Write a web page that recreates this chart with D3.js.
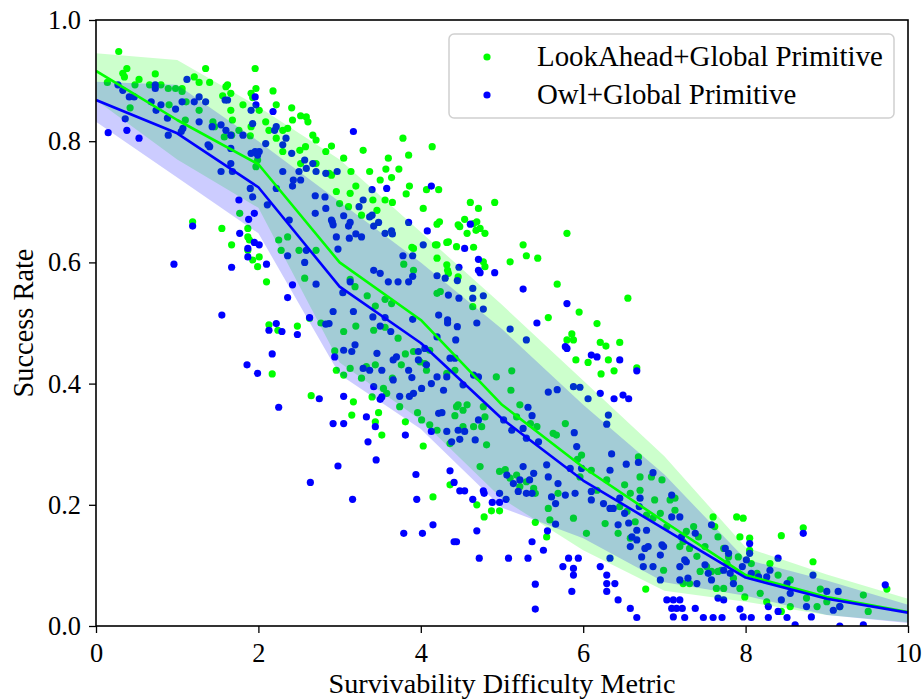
<!DOCTYPE html>
<html>
<head>
<meta charset="utf-8">
<script src="https://cdnjs.cloudflare.com/ajax/libs/d3/7.8.5/d3.min.js"></script>
<style>
  body { margin: 0; background: #fff; }
  svg { display: block; }
</style>
</head>
<body>
<div id="chart"></div>
<script>
const seriesNames = ["LookAhead+Global Primitive", "Owl+Global Primitive"];
const xTicks = [0, 2, 4, 6, 8, 10];
const yTicks = [0, 0.2, 0.4, 0.6, 0.8, 1.0];

// binned mean and band edges, one value per bin centre
const binX = [0, 1, 2, 3, 4, 5, 6, 7, 8, 9, 10];
const lookAheadMean  = [0.916, 0.835, 0.762, 0.600, 0.505, 0.365, 0.262, 0.172, 0.084, 0.048, 0.023];
const lookAheadUpper = [0.945, 0.934, 0.857, 0.770, 0.650, 0.530, 0.405, 0.280, 0.130, 0.085, 0.045];
const lookAheadLower = [0.868, 0.770, 0.690, 0.435, 0.340, 0.210, 0.125, 0.058, 0.040, 0.018, 0.006];
const owlMean  = [0.868, 0.813, 0.724, 0.560, 0.467, 0.342, 0.240, 0.160, 0.080, 0.045, 0.022];
const owlUpper = [0.898, 0.893, 0.800, 0.700, 0.600, 0.490, 0.365, 0.250, 0.110, 0.075, 0.035];
const owlLower = [0.832, 0.740, 0.648, 0.415, 0.325, 0.195, 0.145, 0.072, 0.050, 0.018, 0.005];

// scatter, [difficulty, success rate]
const lookAheadPoints = [
  [0.28,0.948],[0.38,0.92],[0.33,0.912],[0.35,0.906],[0.53,0.902],[0.73,0.911],[0.14,0.897],[0.48,0.893],
  [0.66,0.893],[0.8,0.893],[0.89,0.887],[0.98,0.887],[1.06,0.887],[1.06,0.882],[0.42,0.855],[0.9,0.86],
  [1.11,0.865],[1.21,0.906],[1.27,0.897],[1.4,0.897],[1.35,0.92],[1.6,0.89],[1.62,0.893],[1.66,0.879],
  [1.56,0.875],[1.96,0.92],[1.97,0.887],[1.91,0.879],[1.93,0.872],[2.01,0.851],[2.18,0.883],[2.22,0.86],
  [2.41,0.855],[2.42,0.835],[2.52,0.842],[2.59,0.84],[2.61,0.832],[1.81,0.86],[1.66,0.851],[1.68,0.835],
  [1.44,0.832],[1.46,0.824],[1.27,0.851],[1.1,0.835],[1.91,0.824],[2.09,0.832],[2.13,0.818],[2.22,0.805],
  [2.3,0.818],[2.36,0.821],[1.76,0.818],[1.58,0.807],[1.67,0.81],[1.9,0.809],[2.51,0.785],[2.58,0.791],
  [2.67,0.81],[2.71,0.802],[2.83,0.783],[2.3,0.783],[1.99,0.769],[1.97,0.758],[2.71,0.763],[2.52,0.763],
  [2.87,0.747],[1.77,0.681],[1.87,0.656],[1.87,0.642],[1.89,0.637],[1.87,0.62],[1.93,0.604],[2.01,0.609],
  [1.99,0.593],[2.1,0.568],[1.19,0.667],[1.55,0.656],[1.67,0.629],[2.25,0.637],[2.36,0.642],[2.28,0.62],
  [2.5,0.62],[2.71,0.62],[2.57,0.574],[2.13,0.497],[2.24,0.488],[2.48,0.495],[2.63,0.508],[2.77,0.5],
  [2.17,0.416],[2.65,0.38],
  [3.78,0.805],[4.14,0.791],[3.29,0.785],[3.05,0.772],[2.9,0.792],[3.85,0.777],[3.6,0.772],[3.37,0.75],
  [3.14,0.75],[3.57,0.754],[3.64,0.74],[3.73,0.754],[3.5,0.736],[3.2,0.726],[3.13,0.714],[2.96,0.717],
  [2.9,0.744],[3.41,0.703],[3.56,0.703],[3.65,0.699],[3.46,0.686],[3.27,0.678],[3.11,0.692],[3.0,0.697],
  [3.86,0.726],[3.82,0.713],[4.07,0.72],[4.22,0.72],[4.03,0.689],[4.2,0.663],[4.23,0.667],[4.61,0.699],
  [4.71,0.689],[4.91,0.699],[4.54,0.671],[4.48,0.659],[4.46,0.662],[4.57,0.648],[4.69,0.667],[4.68,0.653],
  [4.73,0.656],[4.79,0.648],[4.65,0.664],[4.32,0.633],[4.44,0.626],[4.34,0.634],[4.18,0.629],[4.2,0.629],
  [3.89,0.625],[3.91,0.623],[4.65,0.625],[4.2,0.607],[4.32,0.596],[4.33,0.587],[4.34,0.582],[4.46,0.576],
  [4.77,0.601],[4.79,0.593],[3.79,0.597],[3.91,0.587],[5.26,0.629],[5.3,0.611],[5.44,0.607],[5.1,0.601],
  [5.8,0.648],[5.68,0.564],[5.57,0.509],[5.95,0.518],[6.17,0.499],[5.86,0.482],[5.88,0.472],[5.8,0.472],
  [6.21,0.468],[6.28,0.462],[6.45,0.468],[5.91,0.439],[6.06,0.435],[6.31,0.439],[6.38,0.421],[6.22,0.416],
  [6.55,0.541],[4.64,0.527],[4.2,0.549],[4.24,0.552],[3.34,0.545],[3.44,0.528],[3.56,0.539],[3.64,0.532],
  [3.13,0.572],[3.19,0.56],[3.05,0.486],[3.2,0.495],[3.42,0.488],[3.56,0.493],[3.72,0.475],[3.81,0.449],
  [3.91,0.453],[3.76,0.431],[3.65,0.409],[3.44,0.431],[3.33,0.428],[3.13,0.425],[2.96,0.422],[3.05,0.414],
  [3.27,0.409],[3.4,0.378],[3.54,0.392],[3.58,0.384],[3.17,0.37],[2.94,0.454],[3.74,0.362],[3.96,0.352],
  [3.81,0.337],[4.01,0.34],[4.11,0.332],[4.2,0.323],[4.03,0.297],[4.36,0.301],[3.48,0.352],[3.44,0.337],
  [3.52,0.315],[3.15,0.348],[4.11,0.455],[4.05,0.433],[3.99,0.436],[4.07,0.422],[4.32,0.417],[4.42,0.422],
  [4.44,0.362],[4.46,0.365],[4.52,0.356],[4.57,0.365],[4.42,0.347],[4.52,0.329],[4.77,0.362],[4.79,0.345],
  [4.75,0.329],[4.81,0.299],[4.65,0.329],[4.93,0.411],[5.12,0.421],[5.11,0.389],[5.22,0.365],[5.18,0.345],
  [5.35,0.334],[5.43,0.329],[5.63,0.318],[5.67,0.315],[6.66,0.426],
  [5.78,0.334],[5.88,0.178],[5.98,0.282],[5.93,0.275],[5.96,0.246],[6.04,0.153],[6.1,0.257],[6.29,0.241],
  [6.27,0.169],[6.43,0.153],[6.51,0.233],[6.58,0.145],[6.68,0.279],[6.7,0.246],[6.7,0.224],[6.84,0.246],
  [6.88,0.208],[6.95,0.186],[7.07,0.208],[7.13,0.211],[7.13,0.191],[7.19,0.131],[7.27,0.156],[7.36,0.164],
  [7.4,0.115],[7.5,0.131],[7.6,0.18],[7.62,0.164],[7.66,0.147],[7.73,0.128],[7.79,0.114],[7.89,0.18],
  [7.97,0.178],[7.93,0.147],[8.05,0.145],[8.05,0.125],[7.91,0.114],[7.99,0.048],[6.77,0.061],[6.99,0.092],
  [7.23,0.07],[7.31,0.07],[7.64,0.062],[7.73,0.062],[7.93,0.062],[8.44,0.149],[8.3,0.103],[8.4,0.084],
  [8.55,0.076],[8.55,0.032],[8.44,0.024],[8.71,0.162],[8.83,0.106],[8.92,0.061],[8.75,0.046],[8.88,0.032],
  [9.0,0.04],[9.16,0.032],[9.45,0.051],[9.51,0.024],[9.74,0.061],[6.17,0.224],[6.45,0.197],[6.54,0.189],
  [6.58,0.219],[6.64,0.172],[6.78,0.183],[6.86,0.178],[6.97,0.241],[7.03,0.164],[7.23,0.139],[7.31,0.128],
  [7.42,0.147],[7.44,0.09],[7.52,0.098],[7.58,0.09],[7.66,0.09],[7.7,0.092],[7.77,0.103],[7.85,0.079],
  [8.07,0.103],[8.14,0.087],[8.18,0.054],[8.26,0.04],
  [4.15,0.213],[4.36,0.233],[4.69,0.2],[4.78,0.18],[4.87,0.19],[4.97,0.19],[5.41,0.171],[5.55,0.147],
  [4.73,0.263],[4.97,0.255],[5.04,0.258],[5.1,0.244],[5.18,0.249],[5.22,0.23],[5.39,0.227],[5.3,0.238],
  [5.41,0.219],[5.57,0.194],[5.59,0.175],[5.69,0.219]
];

const owlPoints = [
  [0.15,0.814],[0.38,0.818],[0.53,0.805],[0.36,0.837],[0.27,0.893],[0.33,0.884],[0.41,0.873],[0.47,0.873],
  [0.68,0.865],[0.74,0.851],[0.73,0.893],[0.73,0.887],[0.8,0.86],[0.88,0.838],[0.98,0.853],[0.89,0.81],
  [1.12,0.902],[1.06,0.865],[1.07,0.821],[1.05,0.816],[1.21,0.865],[1.27,0.873],[1.35,0.865],[1.27,0.832],
  [1.43,0.824],[1.38,0.794],[1.4,0.791],[1.54,0.827],[1.6,0.818],[1.62,0.868],[1.59,0.868],[1.66,0.81],
  [1.66,0.788],[1.54,0.75],[1.66,0.763],[1.68,0.75],[1.81,0.81],[1.91,0.851],[1.96,0.873],[1.97,0.86],
  [1.93,0.829],[1.91,0.78],[1.96,0.783],[2.01,0.783],[1.99,0.777],[2.09,0.796],[2.2,0.818],[2.22,0.824],
  [2.34,0.805],[2.3,0.794],[2.41,0.78],[2.18,0.849],[2.5,0.75],[2.57,0.769],[2.59,0.755],[2.67,0.763],
  [2.71,0.75],[2.83,0.747],[2.3,0.75],[2.43,0.736],[2.52,0.736],[2.42,0.726],[2.7,0.71],[2.82,0.708],
  [2.83,0.689],[2.91,0.667],[2.7,0.681],[2.38,0.67],[2.11,0.695],[2.22,0.722],[1.9,0.722],[1.93,0.708],
  [1.95,0.681],[1.76,0.703],[1.88,0.671],[1.77,0.648],[1.19,0.66],[0.96,0.597],[1.67,0.592],[1.87,0.623],
  [1.87,0.609],[1.95,0.633],[2.01,0.629],[2.1,0.597],[2.36,0.611],[2.57,0.6],[2.59,0.62],[2.71,0.564],
  [2.42,0.563],[2.36,0.542],[1.55,0.513],[2.13,0.488],[2.22,0.499],[2.29,0.486],[2.48,0.481],[2.63,0.509],
  [2.83,0.498],[2.87,0.499],[1.86,0.431],[1.99,0.417],[2.17,0.449],[2.25,0.361],[2.75,0.375],
  [3.17,0.816],[2.97,0.75],[3.4,0.72],[3.58,0.722],[3.29,0.703],[3.24,0.692],[3.4,0.678],[3.37,0.675],
  [3.05,0.677],[3.13,0.666],[3.11,0.66],[2.9,0.67],[2.92,0.662],[3.48,0.666],[3.42,0.66],[2.96,0.642],
  [3.12,0.64],[3.2,0.647],[3.27,0.642],[2.98,0.622],[3.56,0.648],[3.64,0.652],[3.65,0.647],[3.85,0.666],
  [4.08,0.652],[4.13,0.726],[4.03,0.629],[3.78,0.611],[3.9,0.611],[4.54,0.623],[4.61,0.663],[4.71,0.605],
  [4.71,0.587],[4.73,0.583],[4.91,0.583],[4.47,0.592],[4.2,0.578],[4.3,0.574],[4.45,0.57],[4.34,0.546],
  [4.47,0.541],[4.64,0.557],[4.64,0.541],[4.77,0.545],[4.77,0.523],[4.69,0.5],[5.26,0.556],[5.43,0.5],
  [5.1,0.49],[5.3,0.472],[5.8,0.532],[5.78,0.461],[5.8,0.458],[6.1,0.447],[6.17,0.444],[6.45,0.439],
  [5.57,0.386],[5.68,0.39],[3.42,0.587],[3.5,0.582],[3.6,0.568],[3.72,0.568],[3.85,0.568],[3.9,0.577],
  [3.13,0.568],[3.04,0.55],[2.92,0.519],[3.17,0.519],[3.41,0.51],[3.5,0.495],[3.56,0.509],[3.63,0.486],
  [3.9,0.506],[4.2,0.477],[4.22,0.513],[4.33,0.505],[4.33,0.5],[4.45,0.494],[4.43,0.472],[3.05,0.455],
  [3.15,0.453],[2.94,0.444],[3.19,0.464],[3.46,0.45],[3.66,0.439],[3.7,0.444],[3.97,0.453],[3.97,0.439],
  [4.05,0.458],[4.07,0.431],[3.85,0.422],[3.89,0.41],[3.66,0.406],[3.52,0.422],[3.29,0.425],[3.37,0.422],
  [3.42,0.395],[3.05,0.379],[3.74,0.379],[3.86,0.379],[3.91,0.384],[4.01,0.392],[4.13,0.4],[4.2,0.411],
  [4.28,0.389],[4.32,0.411],[4.36,0.442],[4.42,0.442],[4.65,0.414],[4.71,0.411],[4.52,0.398],[4.22,0.351],
  [4.26,0.352],[4.46,0.323],[4.54,0.321],[4.67,0.307],[4.48,0.308],[4.38,0.304],[4.32,0.321],[4.13,0.321],
  [3.81,0.315],[3.33,0.345],[3.44,0.329],[3.5,0.374],[3.52,0.378],[3.35,0.304],[3.05,0.334],[2.92,0.334],
  [4.71,0.34],[5.02,0.34],[5.12,0.323],[5.26,0.326],[5.3,0.31],[5.32,0.361],[5.37,0.347],[5.45,0.304],
  [6.66,0.421],
  [5.88,0.395],[5.96,0.394],[6.06,0.375],[6.21,0.384],[6.38,0.375],[6.49,0.381],[6.56,0.375],[6.31,0.348],
  [6.29,0.333],[5.89,0.319],[5.92,0.296],[6.35,0.284],[6.33,0.257],[6.53,0.267],[6.68,0.27],[6.86,0.253],
  [5.98,0.26],[5.84,0.26],[5.9,0.219],[5.78,0.216],[6.1,0.222],[6.1,0.208],[6.25,0.202],[6.33,0.194],
  [6.37,0.194],[6.45,0.211],[6.43,0.167],[6.51,0.186],[6.56,0.17],[6.6,0.147],[6.58,0.131],[6.7,0.211],
  [6.69,0.197],[6.66,0.158],[6.66,0.142],[6.78,0.158],[6.76,0.128],[6.8,0.131],[6.72,0.114],[6.74,0.098],
  [6.86,0.098],[6.97,0.134],[6.95,0.117],[6.99,0.131],[6.95,0.076],[7.09,0.216],[7.09,0.18],[7.19,0.18],
  [7.21,0.147],[7.25,0.109],[7.19,0.098],[7.27,0.106],[7.19,0.076],[7.29,0.079],[7.38,0.153],[7.5,0.101],
  [7.54,0.087],[7.58,0.076],[7.4,0.07],[7.58,0.167],[7.75,0.128],[7.79,0.12],[7.73,0.092],[7.81,0.087],
  [7.85,0.07],[7.96,0.098],[8.01,0.109],[8.05,0.136],[8.05,0.12],[8.07,0.087],[8.16,0.081],[8.26,0.081],
  [8.3,0.092],[8.4,0.112],[8.44,0.043],[8.51,0.07],[8.55,0.054],[8.71,0.153],[8.83,0.084],[9.0,0.057],
  [9.14,0.057],[9.16,0.032],[9.08,0.026],[9.72,0.068],[8.81,0.015],[8.75,0.032],
  [5.82,0.112],[5.94,0.112],[5.75,0.098],[5.88,0.095],[5.88,0.084],[5.86,0.057],[6.21,0.098],[6.33,0.112],
  [6.29,0.084],[6.29,0.07],[6.39,0.07],[6.29,0.057],[6.43,0.043],[6.58,0.029],[6.66,0.014],[7.03,0.043],
  [7.11,0.043],[7.19,0.043],[7.09,0.029],[7.15,0.029],[7.22,0.029],[7.11,0.015],[7.25,0.014],[7.38,0.029],
  [7.48,0.014],[7.6,0.014],[7.71,0.014],[7.66,0.046],[7.73,0.043],[7.93,0.028],[7.97,0.015],[8.07,0.014],
  [8.28,0.032],[8.28,0.014],[8.4,0.024],[8.51,0.014],[8.61,0.002],[9.45,0.002],[9.16,0.0],
  [2.64,0.237],[2.98,0.264],[3.16,0.209],[3.45,0.274],[3.94,0.25],[3.95,0.209],[4.36,0.256],[4.41,0.237],
  [4.48,0.223],[4.54,0.223],[4.64,0.209],[4.77,0.223],[4.78,0.219],[4.88,0.204],[4.97,0.204],[4.97,0.219],
  [5.05,0.209],[3.79,0.153],[4.02,0.153],[4.15,0.167],[4.41,0.139],[4.44,0.139],[4.69,0.157],[4.72,0.112],
  [5.08,0.112],[5.32,0.112],[5.37,0.139],[5.51,0.125],[5.56,0.157],[5.66,0.168],[5.41,0.069],[5.41,0.028],
  [5.06,0.249],[5.14,0.235],[5.22,0.241],[5.2,0.222],[5.3,0.219],[5.37,0.219],[5.34,0.241],[5.39,0.252],
  [5.26,0.263],[5.55,0.266],[5.57,0.246],[5.61,0.213],[5.66,0.202],[5.69,0.235]
];

const colors = ["#00ff00", "#0000ff"];
const fontFamily = "'Liberation Serif', 'Times New Roman', Times, 'DejaVu Serif', 'Noto Serif', serif";

const width = 924;
const height = 699;
const margin = {top: 20, right: 16, bottom: 73, left: 96};

// pick a font size so a string comes out as wide as in the reference
const measureCtx = document.createElement("canvas").getContext("2d");
const fitSize = (str, targetWidth) => {
  measureCtx.font = `100px ${fontFamily}`;
  return targetWidth / measureCtx.measureText(str).width * 100;
};
const tickSize = fitSize("0.8", 33);
const legendSize = fitSize(seriesNames[0], 346);
const xLabelSize = fitSize("Survivability Difficulty Metric", 347);
const yLabelSize = fitSize("Success Rate", 149);

const x = d3.scaleLinear().domain([0, 10]).range([margin.left, width - margin.right]);
const y = d3.scaleLinear().domain([0, 1]).range([height - margin.bottom, margin.top]);

const svg = d3.select("#chart")
  .append("svg")
  .attr("width", width)
  .attr("height", height)
  .attr("viewBox", [0, 0, width, height])
  .style("font-family", fontFamily);

svg.append("defs").append("clipPath")
  .attr("id", "plot-clip")
  .append("rect")
  .attr("x", x(0))
  .attr("y", y(1))
  .attr("width", x(10) - x(0))
  .attr("height", y(0) - y(1));

const plot = svg.append("g").attr("clip-path", "url(#plot-clip)");

// scatter first, the bands are painted over them
[lookAheadPoints, owlPoints].forEach((pts, i) => {
  plot.append("g")
    .selectAll("circle")
    .data(pts)
    .join("circle")
    .attr("cx", d => x(d[0]))
    .attr("cy", d => y(d[1]))
    .attr("r", 3.6)
    .attr("fill", colors[i]);
});

const bands = [
  {mean: lookAheadMean, lo: lookAheadLower, hi: lookAheadUpper},
  {mean: owlMean, lo: owlLower, hi: owlUpper}
];

const area = (lo, hi) => d3.area()
  .x((d, i) => x(binX[i]))
  .y0((d, i) => y(lo[i]))
  .y1((d, i) => y(hi[i]));

bands.forEach((b, i) => {
  plot.append("path")
    .attr("d", area(b.lo, b.hi)(binX))
    .attr("fill", colors[i])
    .attr("fill-opacity", 0.2);
});

const line = vals => d3.line()
  .x((d, i) => x(binX[i]))
  .y((d, i) => y(vals[i]));

bands.forEach((b, i) => {
  plot.append("path")
    .attr("d", line(b.mean)(binX))
    .attr("fill", "none")
    .attr("stroke", colors[i])
    .attr("stroke-width", 2.6)
    .attr("stroke-linejoin", "round");
});

// axes
const xAxis = svg.append("g")
  .attr("transform", `translate(0,${y(0)})`)
  .call(d3.axisBottom(x).tickValues(xTicks).tickFormat(d3.format("d")).tickSize(7).tickPadding(10));

const yAxis = svg.append("g")
  .attr("transform", `translate(${x(0)},0)`)
  .call(d3.axisLeft(y).tickValues(yTicks).tickFormat(d3.format(".1f")).tickSize(7).tickPadding(8));

[xAxis, yAxis].forEach(ax => {
  ax.attr("font-family", null).attr("font-size", null);
  ax.select(".domain").remove();
  ax.selectAll(".tick line").attr("stroke", "#000").attr("stroke-width", 1.3);
  ax.selectAll(".tick text")
    .attr("fill", "#000")
    .style("font-family", fontFamily)
    .style("font-size", tickSize + "px");
});

svg.append("rect")
  .attr("x", x(0))
  .attr("y", y(1))
  .attr("width", x(10) - x(0))
  .attr("height", y(0) - y(1))
  .attr("fill", "none")
  .attr("stroke", "#000")
  .attr("stroke-width", 1.6);

svg.append("text")
  .attr("x", (x(0) + x(10)) / 2)
  .attr("y", 693)
  .attr("text-anchor", "middle")
  .style("font-size", xLabelSize + "px")
  .attr("fill", "#000")
  .text("Survivability Difficulty Metric");

svg.append("text")
  .attr("transform", `translate(33,${(y(0) + y(1)) / 2}) rotate(-90)`)
  .attr("text-anchor", "middle")
  .style("font-size", yLabelSize + "px")
  .attr("fill", "#000")
  .text("Success Rate");

// legend
const legend = svg.append("g");

legend.append("rect")
  .attr("x", 449)
  .attr("y", 34)
  .attr("width", 445)
  .attr("height", 84)
  .attr("rx", 5)
  .attr("fill", "#fff")
  .attr("fill-opacity", 0.8)
  .attr("stroke", "#d0d0d0")
  .attr("stroke-width", 1.5);

const items = legend.selectAll("g.item")
  .data(seriesNames)
  .join("g")
  .attr("class", "item")
  .attr("transform", (d, i) => `translate(0,${57 + i * 38})`);

items.append("circle")
  .attr("cx", 487)
  .attr("cy", 0)
  .attr("r", 3.6)
  .attr("fill", (d, i) => colors[i]);

items.append("text")
  .attr("x", 537)
  .attr("y", 9)
  .style("font-size", legendSize + "px")
  .attr("fill", "#000")
  .text(d => d);
</script>
</body>
</html>
